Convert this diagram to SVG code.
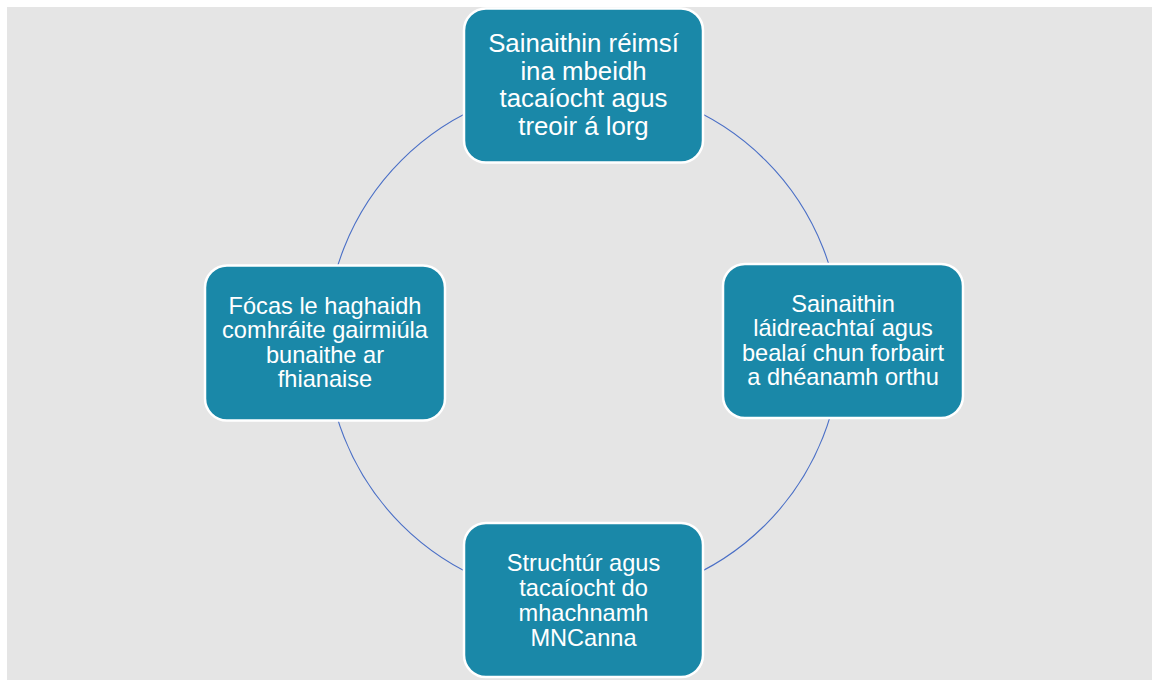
<svg xmlns="http://www.w3.org/2000/svg" width="1152" height="680" viewBox="0 0 1152 680">
<style>
.bg{fill:#e5e5e5}
.box{fill:#1a88a8;stroke:#ffffff;stroke-width:2.5}
.t{font-family:"Liberation Sans",Arial,sans-serif;fill:#ffffff;text-anchor:middle}
.t24{font-size:23.6px}
.t26{font-size:25.8px}
.ring{fill:none;stroke:#4a6fc6;stroke-width:1.1}
</style>
<rect class="bg" x="7" y="7" width="1145" height="673"/>
<g id="connectors">
<circle class="ring" cx="583.5" cy="342.5" r="257.5"/>
</g>
<g id="node-top">
<rect class="box" x="464" y="8.5" width="239" height="154" rx="22"/>
<text class="t t26" x="583.5" y="52">Sainaithin réimsí</text>
<text class="t t26" x="583.5" y="79.5">ina mbeidh</text>
<text class="t t26" x="583.5" y="107">tacaíocht agus</text>
<text class="t t26" x="583.5" y="134.5">treoir á lorg</text>
</g>
<g id="node-right">
<rect class="box" x="723" y="264" width="240" height="154" rx="22"/>
<text class="t t24" x="843" y="311.5">Sainaithin</text>
<text class="t t24" x="843" y="336">láidreachtaí agus</text>
<text class="t t24" x="843" y="360.5">bealaí chun forbairt</text>
<text class="t t24" x="843" y="385">a dhéanamh orthu</text>
</g>
<g id="node-left">
<rect class="box" x="205" y="265.5" width="240" height="155" rx="22"/>
<text class="t t24" x="325" y="313.5">Fócas le haghaidh</text>
<text class="t t24" x="325" y="338">comhráite gairmiúla</text>
<text class="t t24" x="325" y="362.5">bunaithe ar</text>
<text class="t t24" x="325" y="387">fhianaise</text>
</g>
<g id="node-bottom">
<rect class="box" x="464" y="523" width="239" height="154" rx="22"/>
<text class="t t24" x="583.5" y="571">Struchtúr agus</text>
<text class="t t24" x="583.5" y="596">tacaíocht do</text>
<text class="t t24" x="583.5" y="621">mhachnamh</text>
<text class="t t24" x="583.5" y="646">MNCanna</text>
</g>
</svg>
